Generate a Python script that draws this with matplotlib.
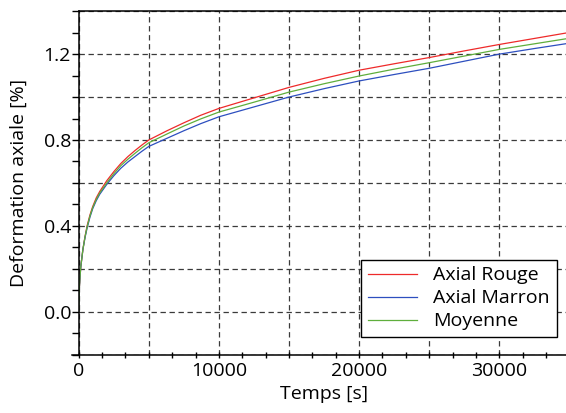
import matplotlib
matplotlib.use("Agg")
import matplotlib.pyplot as plt
from matplotlib.ticker import MultipleLocator, FuncFormatter
from matplotlib.lines import Line2D

# Creep test: axial strain vs. time
temps = [0, 30, 80, 150, 300, 450, 600, 800, 1000, 1250, 1500, 2000, 2500,
         3000, 3500, 4000, 4500, 5000, 6300, 7500, 8700, 10000, 12500, 15000,
         17500, 20000, 22500, 25000, 27500, 30000, 32500, 35000]
axial_rouge = [0.0, 0.09, 0.15, 0.21, 0.29, 0.35, 0.40, 0.45, 0.49, 0.53,
               0.56, 0.61, 0.652, 0.69, 0.722, 0.75, 0.776, 0.80, 0.843, 0.880,
               0.915, 0.947, 0.996, 1.045, 1.087, 1.125, 1.155, 1.184, 1.215,
               1.245, 1.273, 1.301]
axial_marron = [0.0, 0.09, 0.15, 0.21, 0.29, 0.345, 0.39, 0.44, 0.48, 0.517,
                0.547, 0.593, 0.633, 0.668, 0.697, 0.722, 0.747, 0.770, 0.808,
                0.843, 0.876, 0.908, 0.954, 1.000, 1.039, 1.075, 1.105, 1.134,
                1.167, 1.200, 1.226, 1.251]
moyenne = [0.0, 0.09, 0.15, 0.21, 0.29, 0.348, 0.395, 0.445, 0.485, 0.523,
           0.553, 0.60, 0.642, 0.68, 0.71, 0.737, 0.763, 0.787, 0.828, 0.865,
           0.898, 0.930, 0.976, 1.023, 1.062, 1.098, 1.130, 1.160, 1.191,
           1.222, 1.248, 1.274]

series_labels = ["Axial Rouge", "Axial Marron", "Moyenne"]
series_colors = ["#ee2a2a", "#2d4fbf", "#5fae3c"]

plt.rcParams["font.family"] = ["Open Sans", "DejaVu Sans"]

W, H = 566, 413
fig = plt.figure(figsize=(W / 100, H / 100), dpi=100)
left_px, top_px, bottom_px = 78.7, 11.2, 354.6
width_px = 35000 * 0.01402
ax = fig.add_axes([left_px / W, (H - bottom_px) / H, width_px / W,
                   (bottom_px - top_px) / H])

for y, lab, col in zip([axial_rouge, axial_marron, moyenne], series_labels, series_colors):
    ax.plot(temps, y, color=col, lw=0.9, label=lab)

ax.set_xlim(0, 35000)
ax.set_ylim(-0.2, 1.4)

ax.spines["right"].set_visible(False)
for s in ("left", "bottom", "top"):
    ax.spines[s].set_linewidth(1.1)
    ax.spines[s].set_color("black")

# y axis: ticks every 0.1, grid every 0.2, labels every 0.4
ax.yaxis.set_major_locator(MultipleLocator(0.2))
ax.yaxis.set_minor_locator(MultipleLocator(0.1))
ax.yaxis.set_major_formatter(FuncFormatter(
    lambda v, p: f"{v:.1f}" if abs(v / 0.4 - round(v / 0.4)) < 1e-6 else ""))
ax.tick_params(axis="y", which="both", direction="out", length=5, width=1.0,
               pad=0.5, labelsize=14)

# x axis: grid every 5000, labels every 10000
ax.xaxis.set_major_locator(MultipleLocator(5000))
ax.xaxis.set_minor_locator(MultipleLocator(5000 / 3))
ax.xaxis.set_major_formatter(FuncFormatter(
    lambda v, p: f"{int(round(v))}" if round(v) % 10000 == 0 else ""))
ax.tick_params(axis="x", which="both", direction="inout", length=4, width=1.0,
               pad=3, labelsize=14)

ax.grid(True, which="major", color="#3a3a3a", lw=0.9, linestyle=(0, (4.3, 2.9)))

# bottom axis line continues under the y tick marks
ax.add_line(Line2D([-7 / width_px, 0], [0, 0], transform=ax.transAxes,
                   color="black", lw=1.1, clip_on=False))

ax.set_xlabel("Temps [s]", fontsize=14, labelpad=4)
ax.set_ylabel("Deformation axiale [%]", fontsize=14)
ax.yaxis.set_label_coords(-0.103, 0.5)

leg = ax.legend(loc="lower right", bbox_to_anchor=(556.7 / W, (H - 337.3) / H),
                bbox_transform=fig.transFigure, borderaxespad=0, fontsize=14,
                handlelength=2.5, handletextpad=0.85, labelspacing=0.26,
                borderpad=0.35, fancybox=False, framealpha=1)
leg.get_frame().set_edgecolor("black")
leg.get_frame().set_linewidth(1.0)

fig.savefig("out.png", dpi=100)
